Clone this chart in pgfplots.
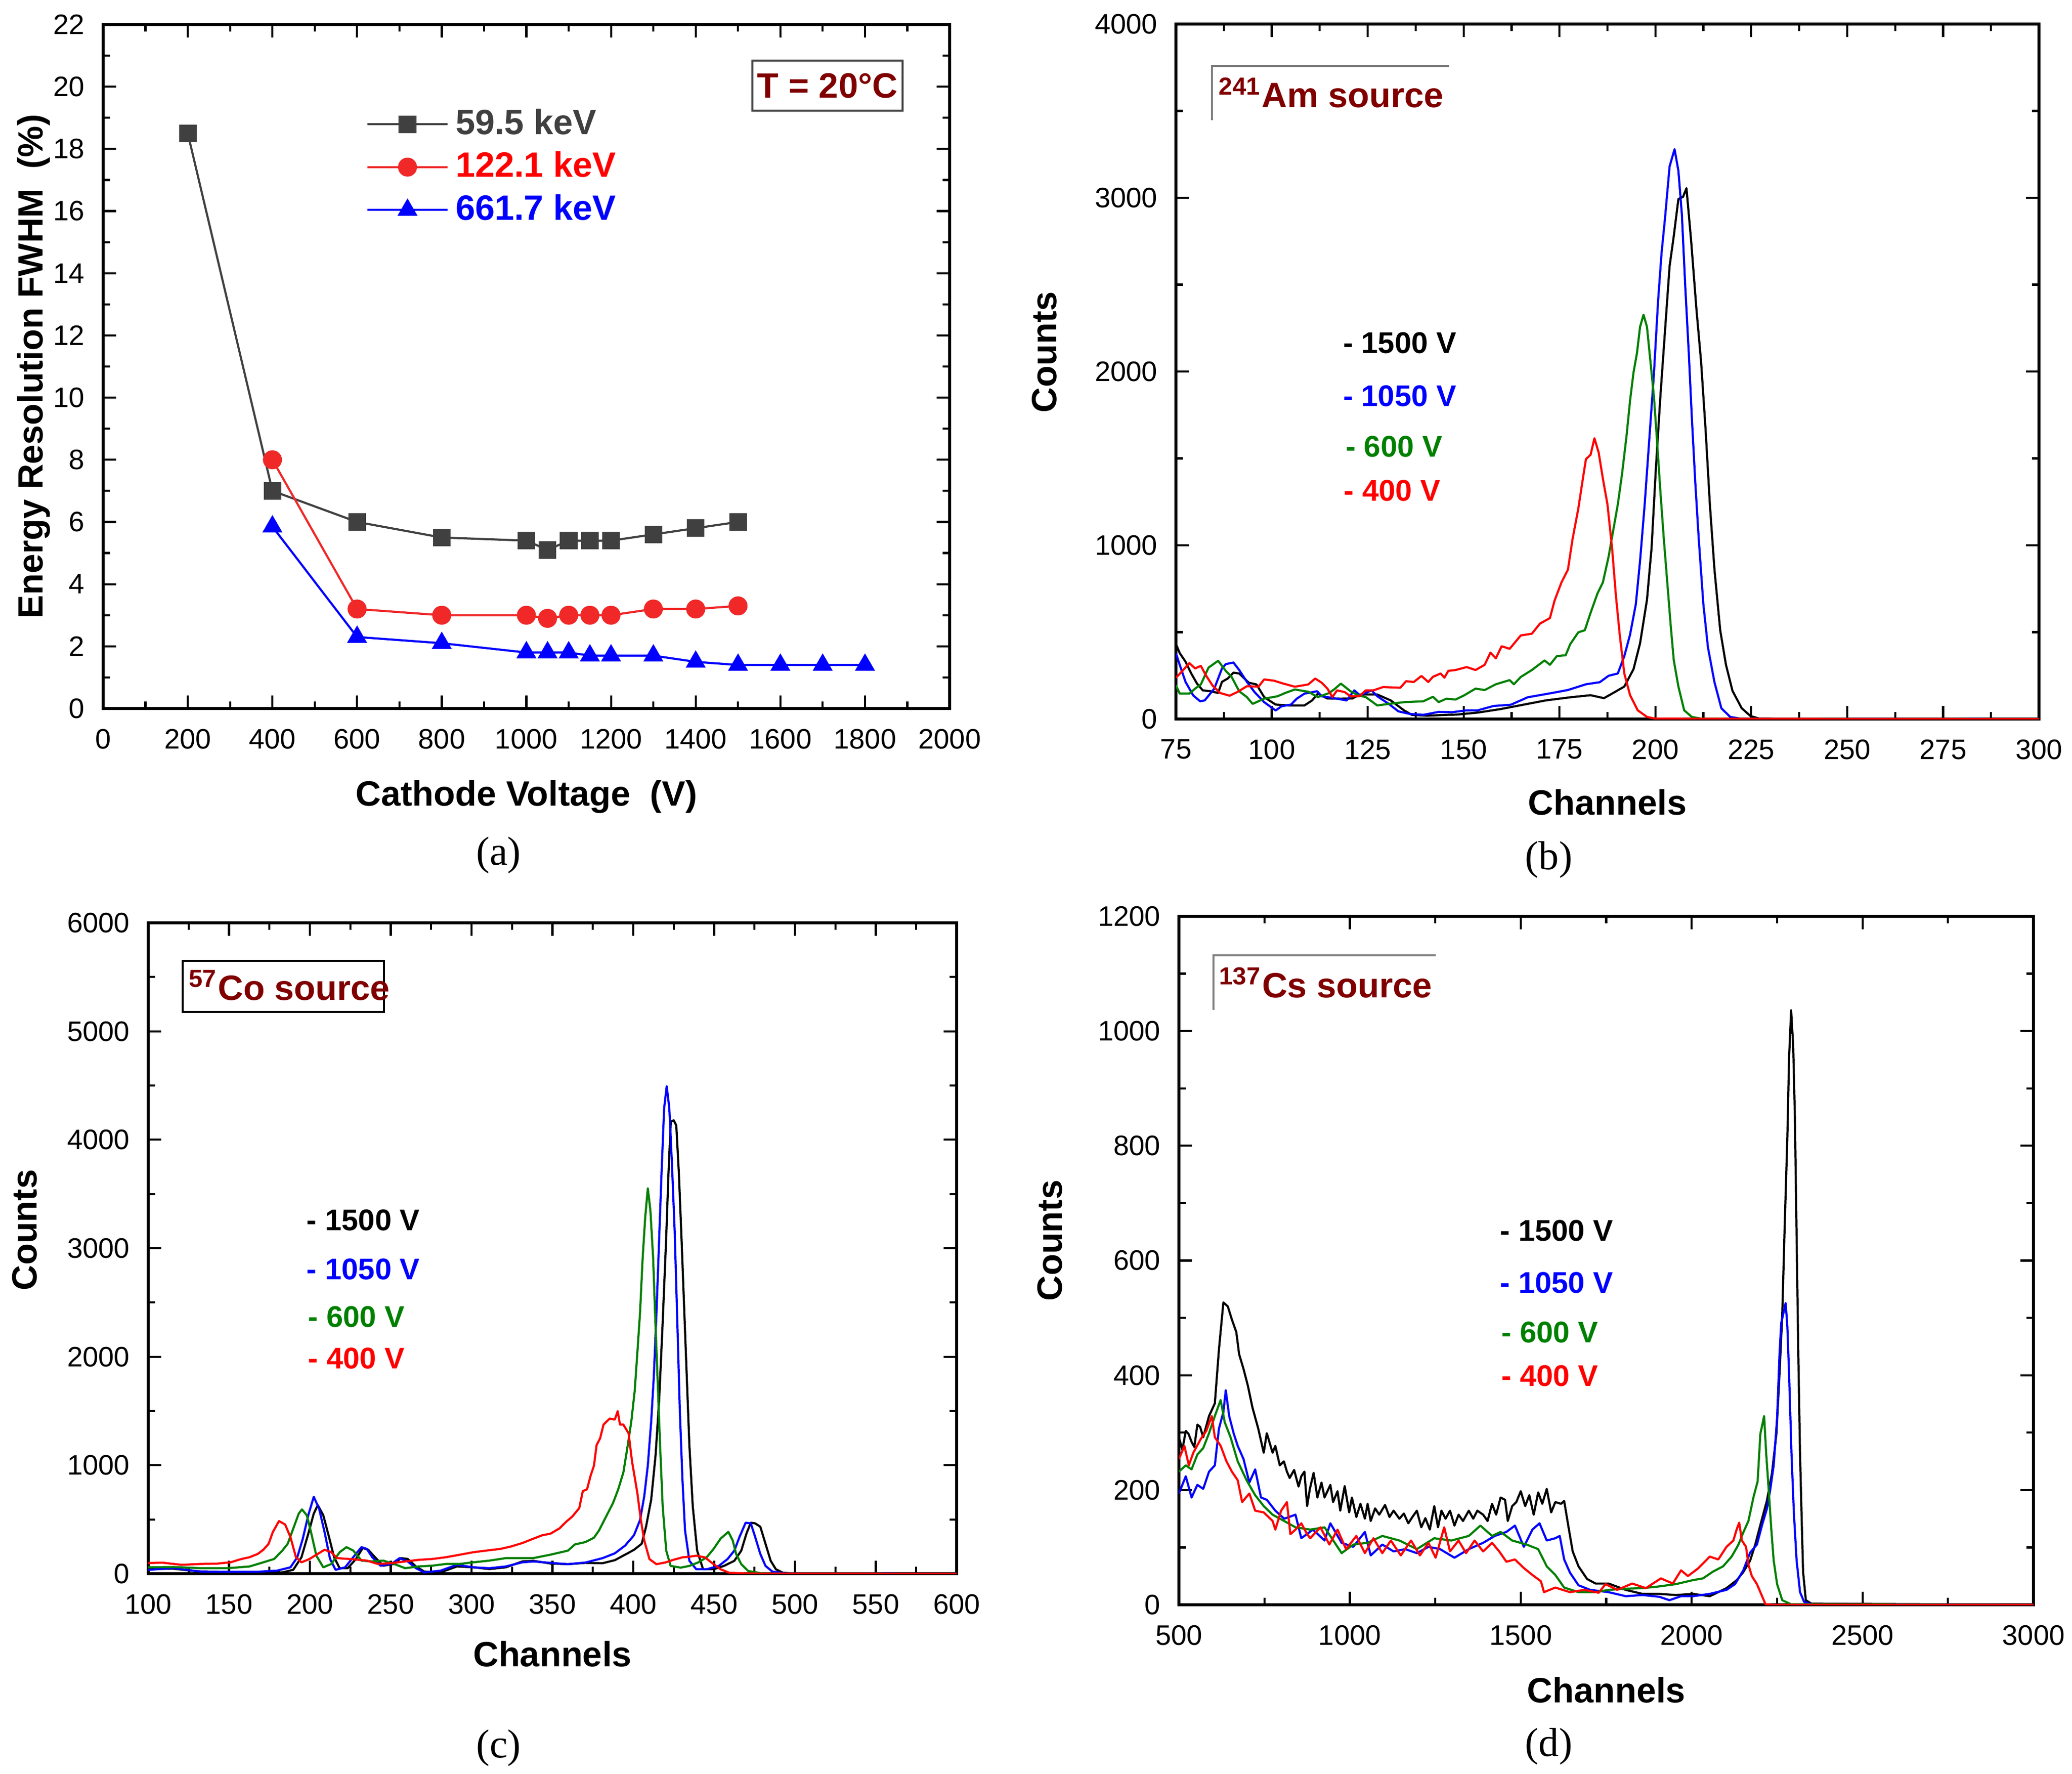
\documentclass[border=0pt]{standalone}
\usepackage{fontspec}
\setmainfont{Liberation Sans}
\newfontfamily\serifcap{Liberation Serif}
\usepackage{pgfplots}
\pgfplotsset{compat=1.18}
\definecolor{agrey}{RGB}{64,64,64}
\definecolor{ared}{RGB}{240,40,40}
\definecolor{dred}{RGB}{128,0,0}
\definecolor{sgreen}{RGB}{0,128,0}
\pgfplotsset{
 base/.style={
  scale only axis,
  axis line style={line width=0.8pt},
  every tick/.style={black, line width=0.6pt},
  tick align=inside,
  major tick length=0.13cm,
  minor tick length=0.07cm,
  minor tick num=1,
  tick label style={font=\fontsize{8}{9}\selectfont},
  /pgf/number format/assume math mode=true,
  /pgf/number format/1000 sep={},
  scaled ticks=false,
  xticklabel style={yshift=-0.08cm},
  yticklabel style={xshift=-0.06cm},
  label style={font=\bfseries\fontsize{10}{12}\selectfont},
 },
 spec/.style={no markers, line width=0.6pt, line join=round},
}
\tikzset{
 vlab/.style={anchor=west, inner sep=0pt, font=\bfseries\fontsize{8.5}{10}\selectfont},
 srcl/.style={anchor=base west, inner sep=0pt, text=dred, font=\bfseries\fontsize{10}{12}\selectfont},
}
\begin{document}
\begin{tikzpicture}
\useasboundingbox (0,0) rectangle (20.695,17.71);
% ---------------- (a)
\begin{axis}[base,
 at={(1.03cm,10.635cm)}, anchor=south west, width=8.455cm, height=6.83cm,
 xmin=0, xmax=2000, ymin=0, ymax=22,
 xtick={0,200,...,2000}, ytick={0,2,...,22},
 xlabel={Cathode Voltage\ \ (V)}, ylabel={Energy Resolution FWHM\ \ (\%)},
 xlabel style={at={(axis description cs:0.5,0)}, anchor=base, yshift=-0.97cm},
 ylabel style={at={(axis description cs:-0.071,0.5)}, anchor=base},
 legend style={at={(axis description cs:0.311,0.887)}, anchor=north west, draw=none, fill=none,
   inner sep=0pt, outer sep=0pt, font=\bfseries\fontsize{10}{12}\selectfont,
   row sep=-0.02cm, column sep=0cm},
 legend cell align=left,
 legend image code/.code={\draw[mark repeat=2,mark phase=2] plot coordinates {(0cm,0cm)(0.4cm,0cm)(0.8cm,0cm)};},
]
\addplot[agrey, line width=0.6pt, mark=square*, mark size=2.2pt, mark options={fill=agrey, draw=agrey}] coordinates {
(200,18.5)(400,7.0)(600,6.0)(800,5.5)(1000,5.4)(1050,5.1)(1100,5.4)(1150,5.4)(1200,5.4)(1300,5.6)(1400,5.8)(1500,6.0)};
\addlegendentry{\textcolor{agrey}{59.5 keV}}
\addplot[ared, line width=0.6pt, mark=*, mark size=2.4pt, mark options={fill=ared, draw=ared}] coordinates {
(400,8.0)(600,3.2)(800,3.0)(1000,3.0)(1050,2.9)(1100,3.0)(1150,3.0)(1200,3.0)(1300,3.2)(1400,3.2)(1500,3.3)};
\addlegendentry{\textcolor{red}{122.1 keV}}
\addplot[blue, line width=0.6pt, mark=triangle*, mark size=2.7pt, mark options={fill=blue, draw=blue}] coordinates {
(400,5.85)(600,2.3)(800,2.1)(1000,1.8)(1050,1.8)(1100,1.8)(1150,1.7)(1200,1.7)(1300,1.7)(1400,1.5)(1500,1.4)(1600,1.4)(1700,1.4)(1800,1.4)};
\addlegendentry{\textcolor{blue}{661.7 keV}}
\node[draw=black!75, line width=0.5pt, fill=white, minimum width=1.5cm, minimum height=0.5cm, inner sep=0pt,
  text=dred, font=\bfseries\fontsize{10}{12}\selectfont] at (axis description cs:0.8557,0.9107) {T = 20°C};
\end{axis}
% ---------------- (b)
\begin{axis}[base,
 at={(11.745cm,10.53cm)}, anchor=south west, width=8.62cm, height=6.94cm,
 xmin=75, xmax=300, ymin=0, ymax=4000,
 xtick={75,100,...,300}, ytick={0,1000,...,4000},
 xlabel={Channels}, ylabel={Counts},
 xlabel style={at={(axis description cs:0.5,0)}, anchor=base, yshift=-0.955cm},
 ylabel style={at={(axis description cs:-0.1386,0.528)}, anchor=base},
]
\addplot[spec, black] coordinates {
(75,432)(76,379)(77.5,330)(79,262)(80.5,204)(82,165)(84,160)(86,150)(87,214)(88.5,233)(90,267)(91.5,262)(94,209)(96,199)(98,126)(101,83)(104.5,78)(108.5,78)(110.5,107)(112,146)(114.5,118)(118,117)(121,118)(123,141)(127.5,141)(131,107)(134.5,49)(136.5,24)(140.5,19)(145.5,24)(148,25)(153.7,37)(159.6,57)(165.5,82)(171.4,107)(177.8,125)(183.1,137)(186.6,120)(189,150)(191.9,187)(194.3,287)(196,436)(197.8,686)(199,985)(200.1,1434)(201.3,1858)(202.5,2232)(203.7,2606)(204.8,2781)(206,2993)(207.2,3005)(208.1,3055)(209.3,2756)(210.7,2357)(211.9,2058)(213.1,1659)(214.2,1235)(215.4,860)(216.9,511)(218.4,312)(220.1,162)(222.5,62)(224.8,17)(227,3)(235,2)(260,1)(300,0)};
\addplot[spec, blue] coordinates {
(75,379)(76,311)(77.5,214)(79.5,136)(81.3,102)(82.5,107)(85,175)(87,291)(88,316)(90,325)(91.5,282)(93.5,214)(95.5,155)(98,97)(101,49)(102.5,73)(105,83)(106.5,117)(108.5,146)(111.8,160)(113,131)(116,121)(119.5,107)(121.5,165)(123,136)(126,165)(127.5,131)(130.5,87)(133,44)(136,29)(139.5,24)(143.5,41)(147,39)(150.8,50)(153.7,50)(157.8,75)(162.3,82)(166.7,125)(173.1,150)(177.2,167)(181.9,200)(185.5,212)(187.8,249)(190.2,262)(191.9,362)(193.4,486)(194.9,661)(196,910)(197.2,1235)(198.4,1609)(199.6,1983)(200.7,2407)(201.6,2681)(202.5,2881)(203.7,3180)(205,3280)(206,3155)(206.9,2905)(207.8,2482)(208.7,2107)(209.5,1733)(210.4,1359)(211.3,1035)(212.5,661)(213.7,412)(215.4,212)(217.2,62)(219.5,12)(222,3)(240,2)(265,1)(300,0)};
\addplot[spec, sgreen] coordinates {
(75,194)(76,146)(78.5,146)(80,175)(81.5,199)(83.5,296)(86,335)(88,277)(89.5,243)(91.5,160)(93.5,126)(95,87)(98,117)(101.5,131)(103.5,150)(106,170)(109.5,157)(112,126)(115,150)(116.5,175)(118,204)(120.5,160)(122.5,136)(124.5,126)(127.5,78)(130.5,87)(134.5,97)(139.5,102)(142,128)(143.5,97)(145.5,117)(147.9,112)(150.2,137)(153.1,175)(155.5,167)(158.4,200)(162,224)(163.1,200)(164.9,242)(167.8,282)(171.1,337)(172.5,312)(174.3,362)(176.6,367)(177.8,431)(179.9,499)(181.6,511)(183.1,611)(184.9,723)(186.3,786)(187.8,935)(189,1085)(190.2,1235)(191.3,1409)(192.5,1634)(193.4,1833)(194.3,1995)(195.2,2107)(196,2257)(196.9,2327)(197.8,2257)(198.7,2058)(199.6,1858)(200.4,1609)(201.3,1309)(202.2,1035)(203.1,786)(204,536)(204.8,337)(206,187)(207.5,50)(209.5,12)(212,2)(300,0)};
\addplot[spec, red] coordinates {
(75,238)(76.5,272)(78.5,322)(80,291)(81.5,306)(82.8,252)(84.5,194)(86.5,150)(89,134)(91,155)(93.5,189)(96.5,186)(98,228)(100.5,221)(103,204)(106,186)(109.5,199)(111.3,233)(113,209)(114.5,175)(115.8,126)(117,165)(119,155)(120.5,131)(122.8,131)(124.5,165)(126.5,165)(129,184)(133.5,180)(135,218)(137,213)(139,248)(140.8,213)(142,243)(144,262)(145,238)(146,277)(147.9,282)(150.8,299)(153.1,282)(155.5,312)(157,382)(158.4,349)(159.9,419)(162,404)(164.9,481)(167.8,491)(169.9,549)(172.5,581)(173.7,681)(175.5,786)(177.2,860)(178.4,1035)(179.9,1210)(181.1,1384)(181.9,1496)(183.1,1521)(184.1,1616)(185.2,1534)(186.3,1384)(187.5,1235)(188.7,985)(189.7,711)(190.7,486)(191.9,262)(193.4,137)(195.4,50)(197.8,12)(200,2)(300,0)};
\draw[gray, line width=0.5pt] (axis description cs:0.0418,0.8617) -- (axis description cs:0.0418,0.9395) -- (axis description cs:0.3167,0.9395);
\node[srcl] at (axis description cs:0.049,0.88) {\textsuperscript{241}Am source};
\node[vlab, text=black] at (axis description cs:0.193,0.541) {- 1500 V};
\node[vlab, text=blue] at (axis description cs:0.193,0.4647) {- 1050 V};
\node[vlab, text=sgreen] at (axis description cs:0.196,0.392) {- 600 V};
\node[vlab, text=red] at (axis description cs:0.194,0.3285) {- 400 V};
\end{axis}
% ---------------- (c)
\begin{axis}[base,
 at={(1.48cm,1.995cm)}, anchor=south west, width=8.075cm, height=6.5cm,
 xmin=100, xmax=600, ymin=0, ymax=6000,
 xtick={100,150,...,600}, ytick={0,1000,...,6000},
 xlabel={Channels}, ylabel={Counts},
 xlabel style={at={(axis description cs:0.5,0)}, anchor=base, yshift=-0.925cm},
 ylabel style={at={(axis description cs:-0.138,0.528)}, anchor=base},
]
\addplot[spec, black] coordinates {
(100,43)(115.5,46)(132.4,20)(149.2,17)(166.1,15)(183,12)(189.7,36)(194.8,152)(199,368)(202.4,554)(204.9,632)(208.3,539)(211.6,353)(215,152)(218.4,51)(223.4,51)(228.5,136)(232.7,237)(236.1,221)(240.3,152)(245.4,74)(252.1,90)(256.3,144)(260.5,136)(265.6,67)(270.7,20)(280.8,12)(290.9,67)(301,59)(311.1,43)(321.2,59)(331.4,113)(338.2,119)(348.9,94)(359.6,88)(370.4,100)(381.1,97)(388.6,125)(395,176)(400.4,220)(405.2,276)(407.9,433)(411.1,684)(413.8,1091)(416,1593)(418.1,2283)(420.3,3067)(421.8,3694)(423.2,4165)(425,4180)(426.6,4133)(428.2,3694)(429.9,3067)(431.5,2440)(433.1,1813)(434.7,1185)(436.8,621)(439.5,213)(443.2,41)(449.7,41)(456.1,72)(462.5,119)(466.8,213)(470,370)(472.7,470)(475.4,464)(478.6,433)(481.8,276)(485,119)(488.2,41)(492.5,9)(500,2)(600,0)};
\addplot[spec, blue] coordinates {
(100,36)(115.5,51)(132.4,20)(149.2,17)(166.1,17)(179.6,28)(188,59)(192.2,152)(195.6,322)(199,539)(202.4,709)(205.7,601)(209.1,384)(212.5,136)(215.9,36)(221.8,59)(226.8,152)(231.9,245)(235.2,229)(238.6,152)(243.7,74)(250.4,90)(255.5,144)(260.5,113)(265.6,51)(270.7,12)(280.8,28)(290.9,82)(301,59)(311.1,51)(321.2,67)(331.4,105)(338.2,113)(348.9,100)(359.6,88)(370.4,103)(381.1,144)(388.6,188)(395,260)(400.4,354)(404.2,495)(406.8,715)(409,997)(411.1,1405)(412.7,1813)(414.3,2377)(415.9,3036)(417.5,3694)(419.1,4290)(420.7,4494)(422.3,4290)(423.9,3788)(425.6,3161)(427.2,2346)(428.8,1499)(430.4,872)(432,401)(434.7,119)(439,41)(445.4,41)(452.9,72)(458.3,135)(462.5,213)(465.7,339)(469.5,470)(472.7,464)(475.4,339)(478.6,182)(481.8,72)(486.1,19)(495,2)(600,0)};
\addplot[spec, sgreen] coordinates {
(100,59)(115.5,62)(132.4,51)(149.2,51)(162.7,67)(171.2,105)(177.9,136)(183,214)(186.3,276)(189.7,415)(193.1,554)(195.1,593)(198.1,539)(200.7,384)(204,167)(208.3,59)(213.3,90)(218.4,198)(222.6,245)(226.8,214)(231.9,121)(238.6,113)(245.4,121)(252.1,90)(258.9,51)(267.3,67)(275.7,74)(284.1,90)(292.6,90)(301,105)(311.1,121)(321.2,144)(331.4,144)(338.2,144)(348.9,176)(359.6,213)(363.9,270)(370.4,292)(375.7,332)(378.9,401)(383.2,527)(387.5,652)(390.7,778)(393.9,934)(396.6,1185)(398.8,1405)(400.9,1687)(402.5,2032)(404.2,2408)(405.8,2910)(407.4,3287)(409,3553)(410.6,3349)(412.3,2910)(413.4,2440)(415,1813)(416.6,1185)(418.2,621)(420.4,213)(423.1,72)(429.3,56)(434.7,72)(440,103)(445.4,151)(449.7,229)(454,323)(458.8,386)(461.5,307)(463.6,182)(466.8,88)(471.1,25)(480,2)(600,0)};
\addplot[spec, red] coordinates {
(100,98)(108.8,102)(120.6,82)(132.4,90)(142.5,93)(150.9,105)(157.7,136)(162.7,152)(167.8,183)(171.2,221)(174.5,276)(177.1,384)(180.9,485)(184.7,454)(188,337)(191.4,152)(194.8,105)(199.8,136)(204.9,183)(209.1,221)(213.3,198)(216.7,144)(226.8,133)(235.2,121)(242,90)(250.4,98)(258.9,113)(267.3,128)(275.7,136)(284.1,152)(292.6,175)(301,198)(309.4,214)(317.9,229)(324.6,252)(331.4,283)(338.2,323)(343.6,354)(348.9,370)(354.3,417)(358.6,480)(362.3,527)(366.6,605)(368.8,762)(371.4,778)(373.6,903)(375.7,997)(377.3,1185)(379.5,1248)(381.6,1374)(385.4,1430)(388.6,1421)(390.4,1499)(391.8,1374)(393.9,1374)(397.1,1295)(399.3,1029)(402.5,746)(404.7,495)(406.8,307)(410,135)(414.3,88)(419.7,103)(425,129)(430.4,151)(434.7,157)(439,166)(444.3,151)(449.7,88)(454,41)(459.3,9)(470,2)(600,0)};
\draw[black, line width=0.5pt] (axis description cs:0.0427,0.863) rectangle (axis description cs:0.2916,0.9415);
\node[srcl] at (axis description cs:0.0493,0.8815) {\textsuperscript{57}Co source};
\node[vlab, text=black] at (axis description cs:0.1954,0.543) {- 1500 V};
\node[vlab, text=blue] at (axis description cs:0.1954,0.468) {- 1050 V};
\node[vlab, text=sgreen] at (axis description cs:0.197,0.395) {- 600 V};
\node[vlab, text=red] at (axis description cs:0.197,0.331) {- 400 V};
\end{axis}
% ---------------- (d)
\begin{axis}[base,
 at={(11.775cm,1.685cm)}, anchor=south west, width=8.535cm, height=6.875cm,
 xmin=500, xmax=3000, ymin=0, ymax=1200,
 xtick={500,1000,...,3000}, ytick={0,200,...,1200},
 xlabel={Channels}, ylabel={Counts},
 xlabel style={at={(axis description cs:0.5,0)}, anchor=base, yshift=-0.975cm},
 ylabel style={at={(axis description cs:-0.137,0.529)}, anchor=base},
]
\addplot[spec, black] coordinates {
(500,292)(510,270)(520,303)(528,298)(537,284)(545,275)(554,314)(562,310)(571,292)(588,329)(605,351)(617,445)(630,527)(643,520)(655,497)(668,475)(676,437)(689,411)(702,381)(715,344)(732,307)(748,265)(757,299)(774,265)(782,277)(795,243)(807,250)(816,232)(824,221)(837,235)(850,206)(858,224)(867,232)(875,172)(883,202)(894,230)(905,187)(917,213)(926,187)(943,209)(951,179)(964,198)(972,164)(985,207)(998,161)(1006,187)(1019,153)(1031,176)(1044,150)(1052,176)(1061,146)(1074,168)(1086,157)(1103,174)(1116,153)(1128,164)(1145,150)(1158,159)(1171,142)(1183,153)(1196,164)(1209,135)(1221,151)(1234,131)(1247,172)(1258,135)(1268,164)(1280,150)(1293,164)(1306,138)(1318,157)(1331,146)(1348,164)(1361,150)(1373,164)(1390,157)(1403,146)(1416,176)(1428,157)(1441,187)(1454,183)(1462,146)(1475,172)(1487,179)(1500,198)(1513,172)(1525,191)(1538,157)(1551,196)(1563,176)(1576,202)(1589,161)(1601,179)(1618,176)(1627,181)(1639,138)(1652,93)(1669,67)(1694,45)(1719,37)(1757,37)(1807,26)(1856,19)(1905,19)(1954,17)(2004,19)(2053,15)(2102,29)(2132,43)(2151,57)(2171,77)(2186,105)(2201,139)(2220,181)(2235,229)(2248,298)(2257,402)(2265,505)(2272,657)(2280,816)(2285,954)(2291,1036)(2297,974)(2302,850)(2307,643)(2312,436)(2317,264)(2322,146)(2326,57)(2334,8)(2350,2)(3000,0)};
\addplot[spec, blue] coordinates {
(500,194)(520,224)(537,187)(554,209)(571,202)(588,232)(605,243)(617,307)(630,336)(637,374)(647,329)(660,299)(672,277)(689,254)(706,213)(723,236)(740,187)(757,183)(782,164)(808,150)(841,157)(858,116)(892,131)(926,112)(943,142)(976,108)(1010,101)(1044,127)(1061,86)(1095,105)(1128,93)(1162,97)(1196,90)(1230,101)(1264,97)(1306,82)(1348,97)(1390,108)(1424,120)(1458,127)(1483,138)(1509,101)(1534,131)(1555,142)(1576,112)(1601,116)(1614,120)(1627,79)(1644,56)(1669,34)(1703,26)(1757,22)(1807,15)(1856,17)(1905,14)(1935,8)(1969,15)(2004,15)(2053,19)(2102,26)(2127,36)(2151,60)(2171,91)(2191,105)(2206,139)(2220,167)(2230,201)(2240,243)(2250,326)(2257,436)(2262,491)(2275,526)(2280,484)(2285,402)(2292,264)(2299,160)(2307,77)(2317,22)(2329,5)(2350,1)(3000,0)};
\addplot[spec, sgreen] coordinates {
(500,232)(520,243)(537,236)(554,262)(571,273)(588,299)(605,329)(622,357)(634,318)(651,292)(672,250)(698,217)(723,191)(748,172)(774,157)(808,146)(841,135)(884,131)(926,135)(976,90)(1010,105)(1052,108)(1095,120)(1145,112)(1196,97)(1247,116)(1297,112)(1348,120)(1382,138)(1416,120)(1441,127)(1475,112)(1517,105)(1551,97)(1576,67)(1601,52)(1627,30)(1669,22)(1719,22)(1757,26)(1807,28)(1856,29)(1905,32)(1954,36)(2004,43)(2033,46)(2063,58)(2092,67)(2117,84)(2137,105)(2151,126)(2166,146)(2181,188)(2193,215)(2201,298)(2206,312)(2212,329)(2218,264)(2226,195)(2233,132)(2240,77)(2250,36)(2265,8)(2290,1)(3000,0)};
\addplot[spec, red] coordinates {
(500,254)(516,277)(529,243)(542,265)(563,288)(580,303)(596,329)(605,292)(622,277)(639,250)(655,232)(672,217)(685,179)(706,194)(723,164)(748,161)(774,146)(782,131)(799,164)(816,179)(826,123)(841,131)(858,142)(875,123)(884,116)(914,135)(940,105)(964,131)(989,97)(1019,120)(1044,90)(1069,116)(1095,90)(1120,112)(1149,86)(1179,112)(1205,86)(1230,108)(1251,82)(1276,135)(1293,93)(1318,112)(1340,90)(1365,112)(1390,93)(1416,108)(1437,93)(1458,75)(1483,79)(1509,64)(1534,52)(1559,41)(1568,22)(1601,30)(1644,22)(1686,26)(1728,21)(1748,36)(1782,26)(1826,37)(1866,29)(1910,46)(1945,37)(1969,60)(1989,50)(2018,63)(2053,84)(2078,79)(2102,101)(2122,112)(2132,132)(2139,143)(2147,112)(2159,101)(2166,70)(2176,50)(2191,36)(2201,22)(2216,1)(2240,0)(3000,0)};
\draw[gray, line width=0.5pt] (axis description cs:0.0404,0.864) -- (axis description cs:0.0404,0.9433) -- (axis description cs:0.3005,0.9433);
\node[srcl] at (axis description cs:0.0463,0.882) {\textsuperscript{137}Cs source};
\node[vlab, text=black] at (axis description cs:0.375,0.543) {- 1500 V};
\node[vlab, text=blue] at (axis description cs:0.375,0.4676) {- 1050 V};
\node[vlab, text=sgreen] at (axis description cs:0.377,0.3956) {- 600 V};
\node[vlab, text=red] at (axis description cs:0.377,0.3324) {- 400 V};
\end{axis}
% captions
\node[font=\serifcap\fontsize{11.5}{13}\selectfont] at (4.98,9.17) {(a)};
\node[font=\serifcap\fontsize{11.5}{13}\selectfont] at (15.47,9.125) {(b)};
\node[font=\serifcap\fontsize{11.5}{13}\selectfont] at (4.98,0.255) {(c)};
\node[font=\serifcap\fontsize{11.5}{13}\selectfont] at (15.47,0.27) {(d)};
\end{tikzpicture}
\end{document}
